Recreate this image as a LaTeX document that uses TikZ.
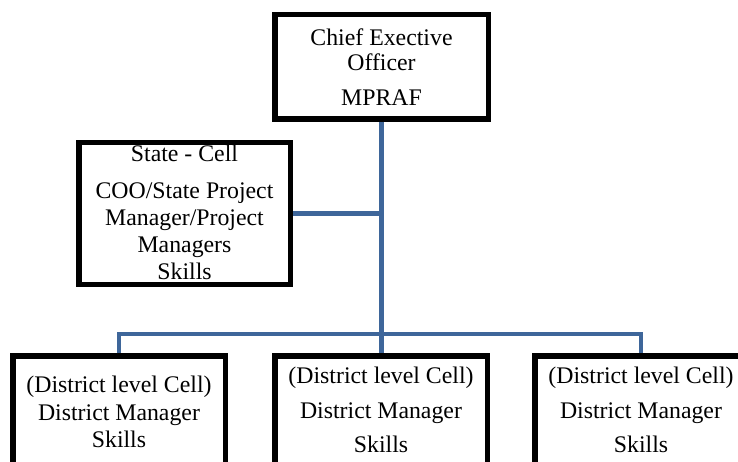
\documentclass[tikz,border=0pt]{standalone}
\usepackage{fontspec}
\setmainfont{Liberation Serif}
\definecolor{connblue}{RGB}{62,102,154}
\begin{document}
\begin{tikzpicture}[x=1pt,y=-1pt,
  box/.style={draw=black,line width=5.5pt,fill=white,rectangle,inner sep=0pt},
  lbl/.style={align=center,inner sep=0pt,anchor=north,font=\fontsize{23.8}{#1}\selectfont},
  conn/.style={draw=connblue,line width=4.5pt}]
\useasboundingbox (0,0) rectangle (738,462);
\clip (0,0) rectangle (738,462);
% boxes
\node[box,minimum width=213.5pt,minimum height=104.5pt] (ceo) at (381.5,67) {};
\node[box,minimum width=211.5pt,minimum height=141.5pt] (state) at (184.5,213.5) {};
\node[box,minimum width=212.5pt,minimum height=145pt] (d1) at (119,428.5) {};
\node[box,minimum width=212.5pt,minimum height=145pt] (d2) at (381,428.5) {};
\node[box,minimum width=212.5pt,minimum height=145pt] (d3) at (641,428.5) {};
% texts
\node[lbl=25pt] (ceoT) at (381.5,29) {Chief Exective\\Officer\\[10pt]MPRAF};
\node[lbl=27pt] (stateT) at (184.5,145) {State - Cell\\[10pt]COO/State Project\\Manager/Project\\Managers\\Skills};
\node[lbl=27.5pt] (d1T) at (119,376) {(District level Cell)\\District Manager\\Skills};
\node[lbl=34.5pt] (d2T) at (381,367) {(District level Cell)\\District Manager\\Skills};
\node[lbl=34.5pt] (d3T) at (641,367) {(District level Cell)\\District Manager\\Skills};
% connectors
\coordinate (barY) at (0,334);
\draw[conn] (ceo.south) -- (ceo.south |- d2.north);
\draw[conn] (state.east) -- (state.east -| ceo.south);
\draw[conn] (d1.north) |- (d3.north |- barY) -- (d3.north);
\end{tikzpicture}
\end{document}
